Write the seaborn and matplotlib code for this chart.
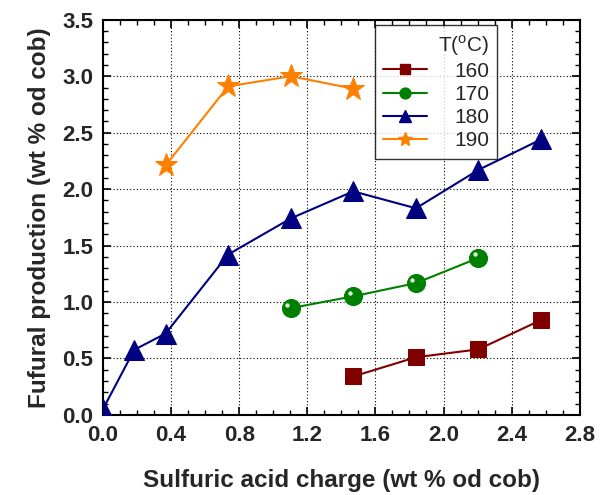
import matplotlib
matplotlib.use("Agg")
import matplotlib.pyplot as plt
from matplotlib.ticker import MultipleLocator, FormatStrFormatter
from matplotlib.lines import Line2D
import matplotlib.transforms as mtrans
import seaborn as sns
import pandas as pd

# Data
x_160 = [1.47, 1.838, 2.205, 2.573]
y_160 = [0.34, 0.51, 0.58, 0.84]
x_170 = [1.103, 1.47, 1.838, 2.205]
y_170 = [0.945, 1.05, 1.167, 1.39]
x_180 = [0.0, 0.184, 0.368, 0.735, 1.103, 1.47, 1.838, 2.205, 2.573]
y_180 = [0.05, 0.576, 0.72, 1.42, 1.74, 1.98, 1.83, 2.17, 2.44]
x_190 = [0.368, 0.735, 1.103, 1.47]
y_190 = [2.21, 2.91, 3.0, 2.89]
temps = ["160", "170", "180", "190"]

sns.set_style("ticks")
plt.rcParams['font.family'] = ['Liberation Sans', 'DejaVu Sans']
plt.rcParams['mathtext.fontset'] = 'custom'
plt.rcParams['mathtext.rm'] = 'Liberation Sans'

fig = plt.figure(figsize=(6.02, 4.95), dpi=100)
ax = fig.add_axes([0.171, 0.162, 0.792, 0.798])

series = [
    ("160", x_160, y_160, "#800000", "s", 12),
    ("170", x_170, y_170, "#008000", "o", 13),
    ("180", x_180, y_180, "#000080", "^", 14),
    ("190", x_190, y_190, "#FF8000", "*", 17),
]
handles = []
for name, xs, ys, col, mk, ms in series:
    df = pd.DataFrame({"x": xs, "y": ys})
    sns.lineplot(data=df, x="x", y="y", ax=ax, color=col, marker=mk,
                 markersize=ms, markeredgecolor=col, linewidth=1.5,
                 estimator=None, sort=False, zorder=3)
    handles.append(Line2D([0], [0], color=col, marker=mk, markersize=ms * 0.6,
                          markeredgecolor=col, linewidth=1.5))

# highlight on green spheres
df170 = pd.DataFrame({"x": x_170, "y": y_170})
off = mtrans.offset_copy(ax.transData, fig=fig, x=-2.5, y=2.5, units='points')
ax.scatter(df170["x"], df170["y"], s=10, color="#d8f0d8", transform=off, zorder=4, linewidths=0)

ax.set_xlim(0, 2.8)
ax.set_ylim(0, 3.5)
ax.xaxis.set_major_locator(MultipleLocator(0.4))
ax.xaxis.set_minor_locator(MultipleLocator(0.1))
ax.yaxis.set_major_locator(MultipleLocator(0.5))
ax.yaxis.set_minor_locator(MultipleLocator(0.1))
ax.xaxis.set_major_formatter(FormatStrFormatter('%.1f'))
ax.yaxis.set_major_formatter(FormatStrFormatter('%.1f'))
ax.tick_params(which='both', direction='in', top=True, right=True, color='black')
ax.tick_params(which='major', length=6, width=1.2, labelsize=16, pad=7)
ax.tick_params(which='minor', length=3.5, width=1.0)
for lab in ax.get_xticklabels() + ax.get_yticklabels():
    lab.set_fontweight('bold')
for s in ax.spines.values():
    s.set_linewidth(1.5)
    s.set_color('black')
ax.grid(True, which='major', linestyle=(0, (1, 2)), color='black', linewidth=0.8)
ax.set_axisbelow(True)

ax.set_xlabel("Sulfuric acid charge (wt % od cob)", fontsize=17.5, fontweight='bold', labelpad=17)
ax.set_ylabel("Fufural production (wt % od cob)", fontsize=17.5, fontweight='bold', labelpad=8)

leg = ax.legend(handles, temps, title=r"T($^\mathrm{o}$C)", loc='upper left',
                bbox_to_anchor=(0.570, 0.988), fontsize=15, title_fontsize=15,
                frameon=True, fancybox=False, edgecolor='black', handlelength=2.1,
                handletextpad=1.3, labelspacing=0.2, borderpad=0.4, borderaxespad=0,
                alignment='right')
leg.get_frame().set_linewidth(1.0)
leg.set_zorder(5)

fig.savefig("out.png", dpi=100, facecolor='white')
